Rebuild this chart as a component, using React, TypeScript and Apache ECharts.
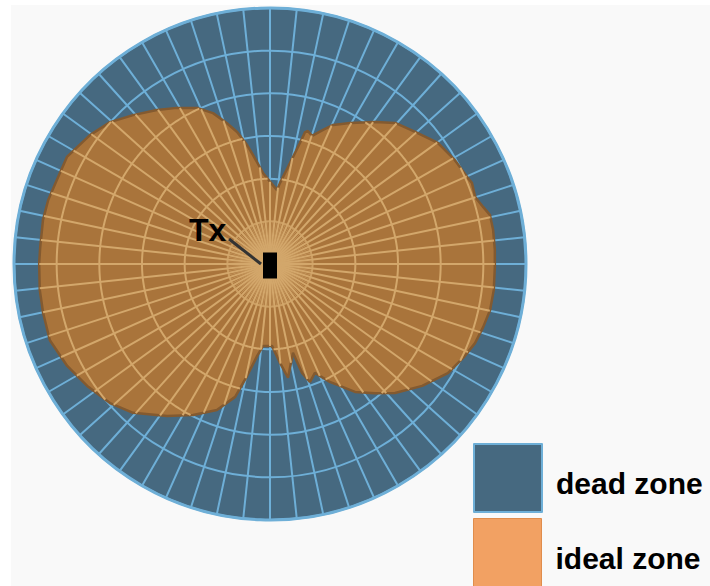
import React, { useEffect, useRef } from 'react';
import * as echarts from 'echarts';

// Ideal-zone boundary: angle (deg, clockwise from top) and radius (ring units, 0..6)
const idealAngles = [0, 5.4, 7.0, 11.2, 13.9, 14.9, 15.9, 18.2, 21.6, 24.4, 29.6, 36.5, 41.6, 47.7, 54.2, 60.7, 66.2, 68.1, 71.9, 75.0, 77.4, 81.3, 86.4, 90.8, 96.6, 101.8, 106.5, 111.1, 115.3, 121.5, 128.7, 135.9, 140.9, 146.4, 153.1, 157.6, 161.3, 163.6, 165.5, 171.0, 174.2, 178.6, 184.9, 188.0, 191.6, 194.7, 200.0, 207.0, 214.1, 222.6, 229.0, 236.3, 243.3, 250.9, 257.8, 263.6, 270.2, 274.2, 281.0, 286.1, 291.5, 297.8, 305.6, 311.6, 317.4, 323.7, 329.2, 334.9, 339.3, 343.0, 346.0, 349.1, 351.1, 355.6, 360];
const idealRadius = [1.93, 1.74, 1.91, 2.41, 2.92, 3.20, 3.24, 3.16, 3.38, 3.58, 3.80, 4.14, 4.42, 4.60, 4.85, 4.97, 5.05, 5.10, 5.06, 5.17, 5.28, 5.29, 5.28, 5.27, 5.28, 5.27, 5.21, 5.15, 5.05, 4.89, 4.57, 4.21, 3.90, 3.60, 3.10, 2.76, 2.92, 2.66, 2.15, 2.70, 2.33, 1.92, 1.93, 2.18, 2.68, 3.22, 3.64, 3.97, 4.30, 4.74, 4.97, 5.15, 5.32, 5.46, 5.44, 5.43, 5.41, 5.40, 5.42, 5.41, 5.37, 5.38, 5.19, 5.01, 4.74, 4.48, 4.26, 4.04, 3.78, 3.45, 3.19, 2.84, 2.59, 2.14, 1.93];

const legendNames = ['dead zone', 'ideal zone'];
const ringValues = [1, 2, 3, 4, 5];
const radiusMax = 6;
const spokeStep = 6;
const txLabel = 'Tx';

const BLUE = '#466980';
const LINE_BLUE = '#6eafd7';
const BROWN = '#a9743b';
const TAN = '#d3a76b';

export default function App() {
  const ref = useRef<HTMLDivElement>(null);
  useEffect(() => {
    if (!ref.current) return;
    const chart = echarts.init(ref.current, undefined, { renderer: 'svg' });

    const renderOverlay = (params: any, api: any) => {
      const C = api.coord([0, 0]);
      const pts = idealAngles.map((a, i) => api.coord([idealRadius[i], a]));
      const u1 = api.coord([1, 0]);
      const unit = Math.hypot(u1[0] - C[0], u1[1] - C[1]);
      const norm = (p: number) => ((p % 360) + 360) % 360;
      const dirOf = (phi: number) => {
        const p = api.coord([1, norm(phi)]);
        const vx = p[0] - C[0], vy = p[1] - C[1];
        const L = Math.hypot(vx, vy) || 1;
        return [vx / L, vy / L];
      };
      const boundary = (phiIn: number) => {
        const phi = norm(phiIn);
        let i = 0;
        for (; i < idealAngles.length - 2; i++) {
          if (phi >= idealAngles[i] && phi <= idealAngles[i + 1]) break;
        }
        const P = pts[i], Q = pts[i + 1];
        const [dx, dy] = dirOf(phi);
        const ex = Q[0] - P[0], ey = Q[1] - P[1];
        const rx = P[0] - C[0], ry = P[1] - C[1];
        const det = -dx * ey + ex * dy;
        if (Math.abs(det) < 1e-9) return Math.hypot(rx, ry);
        return (-rx * ey + ex * ry) / det;
      };
      const children: any[] = [];
      const st = { stroke: TAN, lineWidth: 2 };
      for (let a = 0; a < 360; a += spokeStep) {
        const [dx, dy] = dirOf(a);
        const b = boundary(a);
        children.push({ type: 'line', shape: { x1: C[0], y1: C[1], x2: C[0] + dx * b, y2: C[1] + dy * b }, style: st });
      }
      for (let a = spokeStep / 2; a < 360; a += spokeStep) {
        const [dx, dy] = dirOf(a);
        const b = Math.min(unit, boundary(a));
        children.push({ type: 'line', shape: { x1: C[0], y1: C[1], x2: C[0] + dx * b, y2: C[1] + dy * b }, style: { stroke: TAN, lineWidth: 0.8, opacity: 0.7 } });
      }
      const step = 0.5;
      ringValues.forEach((k) => {
        const R = k * unit;
        const ins = (p: number) => boundary(p) >= R;
        let start = -1;
        for (let p = 0; p < 360; p += step) { if (!ins(p)) { start = p; break; } }
        if (start < 0) {
          children.push({ type: 'circle', shape: { cx: C[0], cy: C[1], r: R }, style: { stroke: TAN, lineWidth: 2, fill: 'none', opacity: 0.8 } });
          return;
        }
        const at = (p: number) => api.coord([k, norm(p)]);
        const bis = (a: number, b: number) => {
          const ia = ins(a);
          for (let t = 0; t < 14; t++) {
            const m = (a + b) / 2;
            if (ins(m) === ia) a = m; else b = m;
          }
          return (a + b) / 2;
        };
        let seg: number[][] | null = null;
        let prevIn = false, prevP = start;
        for (let j = 1; j <= 360 / step; j++) {
          const p = start + j * step;
          const cur = ins(p);
          if (cur && !prevIn) { seg = [at(bis(prevP, p)), at(p)]; }
          else if (cur && prevIn && seg) { seg.push(at(p)); }
          else if (!cur && prevIn && seg) {
            seg.push(at(bis(prevP, p)));
            children.push({ type: 'polyline', shape: { points: seg }, style: { stroke: TAN, lineWidth: 2, fill: null } });
            seg = null;
          }
          prevIn = cur; prevP = p;
        }
      });
      return { type: 'group', children };
    };

    const legendText = {
      padding: [0, 0, 0, 9],
      rich: {
        s: { fontSize: 2, lineHeight: 11 },
        t: { fontSize: 30, fontWeight: 'bold', fontFamily: 'Liberation Sans', color: '#000', lineHeight: 34 },
      },
    };
    const legendFormatter = (name: string) => `{s| }\n{t|${name}}`;

    chart.setOption({
      animation: false,
      backgroundColor: '#ffffff',
      polar: { center: [270, 264], radius: 256 },
      angleAxis: {
        type: 'value', min: 0, max: 360, interval: spokeStep, startAngle: 90, clockwise: true, z: 2,
        axisLine: { show: true, lineStyle: { color: LINE_BLUE, width: 3 } },
        axisTick: { show: false }, axisLabel: { show: false },
        splitLine: { show: true, lineStyle: { color: LINE_BLUE, width: 2 } },
      },
      radiusAxis: {
        type: 'value', min: 0, max: radiusMax, interval: 1, z: 2,
        axisLine: { show: false }, axisTick: { show: false }, axisLabel: { show: false },
        splitLine: { show: true, lineStyle: { color: LINE_BLUE, width: 2 } },
      },
      legend: [
        {
          orient: 'vertical', left: 473, top: 443, itemWidth: 68, itemHeight: 68, padding: 0,
          selectedMode: false, z: 6, textStyle: legendText, formatter: legendFormatter,
          data: [{ name: legendNames[0], icon: 'rect', itemStyle: { color: BLUE, borderColor: LINE_BLUE, borderWidth: 2 } }],
        },
        {
          orient: 'vertical', left: 473, top: 518, itemWidth: 68, itemHeight: 68, padding: 0,
          selectedMode: false, z: 6, textStyle: legendText, formatter: legendFormatter,
          data: [{ name: legendNames[1], icon: 'rect', itemStyle: { color: '#f2a163', borderColor: '#e08d4c', borderWidth: 1 } }],
        },
      ],
      graphic: [
        { type: 'rect', z: -5, silent: true, shape: { x: 11, y: 5, width: 699, height: 581 }, style: { fill: '#f9f9f9' } },
        { type: 'line', z: 20, silent: true, shape: { x1: 229, y1: 239, x2: 261, y2: 264 }, style: { stroke: '#333', lineWidth: 3 } },
        { type: 'text', z: 20, silent: true, x: 189, y: 229.5, style: { text: txLabel, font: 'bold 32px "Liberation Sans"', fill: '#000', verticalAlign: 'middle', align: 'left' } },
      ],
      series: [
        {
          type: 'pie', name: 'zones', center: [270, 264], radius: [0, 256], z: 1, silent: true, startAngle: 90,
          label: { show: false }, labelLine: { show: false }, emphasis: { disabled: true },
          itemStyle: { color: BLUE, borderWidth: 0 },
          data: [{ name: legendNames[0], value: 1 }],
        },
        {
          type: 'line', name: legendNames[1], coordinateSystem: 'polar', z: 3, silent: true,
          symbol: 'none', smooth: false,
          lineStyle: { color: '#835a30', width: 2.5 },
          itemStyle: { color: BROWN },
          areaStyle: { color: BROWN, opacity: 1 },
          data: idealRadius.map((r, i) => [r, idealAngles[i]]),
        },
        {
          type: 'custom', name: 'grid', coordinateSystem: 'polar', z: 4, silent: true,
          renderItem: renderOverlay,
          data: [[0, 0]],
        },
        {
          type: 'scatter', name: 'Tx', coordinateSystem: 'polar', z: 5, silent: true,
          symbol: 'rect', symbolSize: [14, 26], symbolOffset: [0, 1.5],
          itemStyle: { color: '#000', opacity: 1 },
          data: [[0, 0]],
        },
      ],
    });
    return () => chart.dispose();
  }, []);
  return <div ref={ref} style={{ position: 'fixed', left: 0, top: 0, width: 710, height: 586 }} />;
}
